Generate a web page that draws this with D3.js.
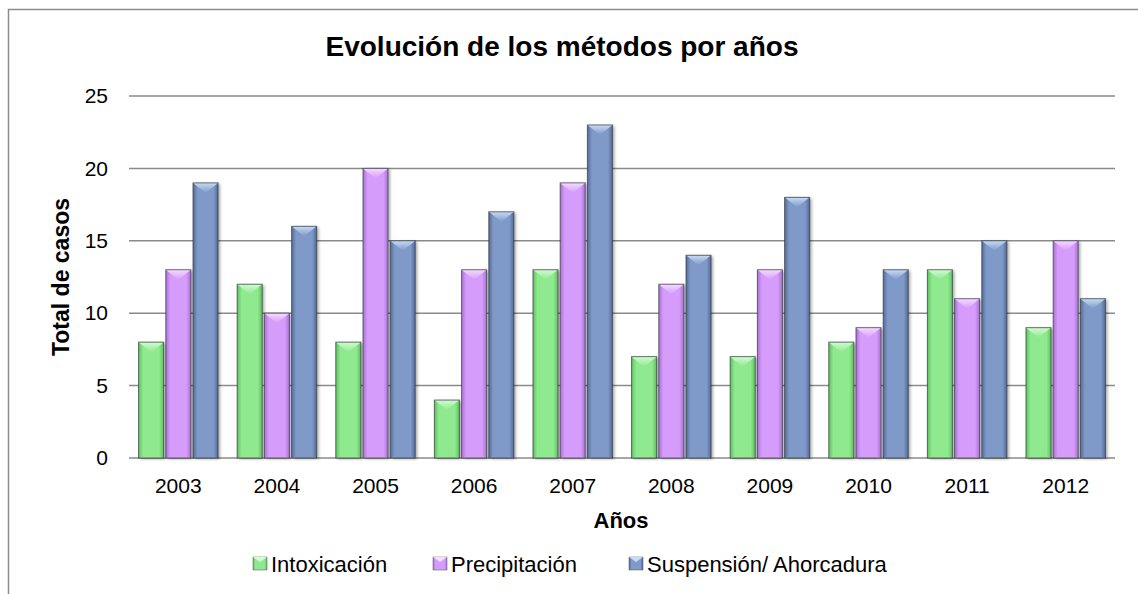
<!DOCTYPE html>
<html>
<head>
<meta charset="utf-8">
<script src="https://cdn.jsdelivr.net/npm/d3@7"></script>
<style>
  body { margin: 0; background: #fff; }
  text { font-family: "Liberation Sans", Arial, sans-serif; }
</style>
</head>
<body>
<div id="chart"></div>
<script>
// chart data
var years = ["2003", "2004", "2005", "2006", "2007", "2008", "2009", "2010", "2011", "2012"];
var seriesNames = ["Intoxicación", "Precipitación", "Suspensión/ Ahorcadura"];
var intoxicacion = [8, 12, 8, 4, 13, 7, 7, 8, 13, 9];
var precipitacion = [13, 10, 20, 13, 19, 12, 13, 9, 11, 15];
var suspension = [19, 16, 15, 17, 23, 14, 18, 13, 15, 11];
var yTicks = [0, 5, 10, 15, 20, 25];

var colors = [
  { base: "#8fe98f", light: "#d2fcd2", dark: "#5fbf5f" },
  { base: "#d69cfb", light: "#f6dcff", dark: "#a96fd4" },
  { base: "#7f99c8", light: "#c8dbf6", dark: "#55699a" }
];

var width = 1138, height = 594;
var margin = { left: 129, right: 23, top: 96, bottom: 136 };

var svg = d3.select("#chart").append("svg")
    .attr("width", width)
    .attr("height", height);

var defs = svg.append("defs");

// gradients for bar body and top bevel, one per series
colors.forEach(function(c, i) {
  var g = defs.append("linearGradient").attr("id", "body" + i)
      .attr("x1", "0").attr("x2", "1").attr("y1", "0").attr("y2", "0");
  g.append("stop").attr("offset", "0%").attr("stop-color", c.dark);
  g.append("stop").attr("offset", "18%").attr("stop-color", c.base);
  g.append("stop").attr("offset", "82%").attr("stop-color", c.base);
  g.append("stop").attr("offset", "100%").attr("stop-color", c.dark);

  var t = defs.append("linearGradient").attr("id", "top" + i)
      .attr("x1", "0").attr("x2", "0").attr("y1", "0").attr("y2", "1");
  t.append("stop").attr("offset", "0%").attr("stop-color", c.light);
  t.append("stop").attr("offset", "100%").attr("stop-color", c.base);
});

var shadow = defs.append("filter").attr("id", "shadow")
    .attr("x", "-30%").attr("y", "-10%").attr("width", "160%").attr("height", "120%");
shadow.append("feGaussianBlur").attr("in", "SourceAlpha").attr("stdDeviation", 1.5);
shadow.append("feOffset").attr("dx", 2).attr("dy", 1).attr("result", "blur");
shadow.append("feComponentTransfer").append("feFuncA").attr("type", "linear").attr("slope", 0.35);
var merge = shadow.append("feMerge");
merge.append("feMergeNode");
merge.append("feMergeNode").attr("in", "SourceGraphic");

// outer border (cut at right and bottom like the reference)
svg.append("path")
    .attr("d", "M8.5," + height + "V9.5H" + width)
    .attr("fill", "none")
    .attr("stroke", "#8c8c8c")
    .attr("stroke-width", 1.5);

var x = d3.scaleBand()
    .domain(years)
    .range([margin.left, width - margin.right])
    .paddingInner(0.15)
    .paddingOuter(0.075);

var xs = d3.scaleBand()
    .domain(d3.range(3))
    .range([0, x.bandwidth()])
    .padding(0.08);

var y = d3.scaleLinear()
    .domain([0, 25])
    .range([height - margin.bottom, margin.top]);

// gridlines
svg.append("g")
    .selectAll("line")
    .data(yTicks)
    .enter().append("line")
    .attr("x1", margin.left)
    .attr("x2", width - margin.right)
    .attr("y1", function(d) { return y(d); })
    .attr("y2", function(d) { return y(d); })
    .attr("stroke", "#8a8a8a")
    .attr("stroke-width", 1.5);

// y axis labels
var yAxis = d3.axisLeft(y).tickValues(yTicks).tickSize(0).tickPadding(21);
svg.append("g")
    .attr("transform", "translate(" + margin.left + ",0)")
    .call(yAxis)
    .call(function(g) { g.select(".domain").remove(); })
    .selectAll("text")
    .attr("font-size", "21px")
    .attr("fill", "#000")
    .style("font-family", "'Liberation Sans', Arial, sans-serif");

// x axis labels
var xAxis = d3.axisBottom(x).tickSize(0).tickPadding(20);
svg.append("g")
    .attr("transform", "translate(0," + y(0) + ")")
    .call(xAxis)
    .call(function(g) { g.select(".domain").remove(); })
    .selectAll("text")
    .attr("font-size", "21px")
    .attr("fill", "#000")
    .style("font-family", "'Liberation Sans', Arial, sans-serif");

var series = [intoxicacion, precipitacion, suspension];

function drawBar(g, bx, by, bw, bh, i) {
  g.append("rect")
      .attr("x", bx).attr("y", by)
      .attr("width", bw).attr("height", bh)
      .attr("fill", "url(#body" + i + ")")
      .attr("filter", "url(#shadow)");
  var d = Math.min(bw * 0.4, bh / 2);
  // top bevel
  g.append("polygon")
      .attr("points", [[bx, by], [bx + bw, by], [bx + bw / 2, by + d]].join(" "))
      .attr("fill", "url(#top" + i + ")");
  // bottom bevel
  g.append("polygon")
      .attr("points", [[bx, by + bh], [bx + bw, by + bh], [bx + bw / 2, by + bh - d * 0.6]].join(" "))
      .attr("fill", colors[i].base)
      .attr("opacity", 0.8);
  g.append("rect")
      .attr("x", bx).attr("y", by)
      .attr("width", bw).attr("height", bh)
      .attr("fill", "none")
      .attr("stroke", "#2f3a3a")
      .attr("stroke-opacity", 0.7)
      .attr("stroke-width", 1);
}

var bars = svg.append("g");
years.forEach(function(yr, j) {
  series.forEach(function(s, i) {
    var g = bars.append("g");
    drawBar(g, x(yr) + xs(i), y(s[j]), xs.bandwidth(), y(0) - y(s[j]), i);
  });
});

// title
svg.append("text")
    .attr("x", 562)
    .attr("y", 56)
    .attr("text-anchor", "middle")
    .attr("font-size", "28px")
    .attr("font-weight", "bold")
    .text("Evolución de los métodos por años");

// axis titles
svg.append("text")
    .attr("x", 621)
    .attr("y", 528)
    .attr("text-anchor", "middle")
    .attr("font-size", "22px")
    .attr("font-weight", "bold")
    .text("Años");

svg.append("text")
    .attr("transform", "translate(69," + ((y(0) + y(25)) / 2) + ") rotate(-90)")
    .attr("text-anchor", "middle")
    .attr("font-size", "23px")
    .attr("font-weight", "bold")
    .text("Total de casos");

// legend
var legendX = [253, 433, 629];
var legend = svg.append("g");
seriesNames.forEach(function(name, i) {
  var lg = legend.append("g").attr("transform", "translate(" + legendX[i] + ",557)");
  lg.append("rect").attr("width", 14).attr("height", 13)
      .attr("fill", "url(#body" + i + ")")
      .attr("stroke", "#555").attr("stroke-width", 0.5);
  lg.append("polygon")
      .attr("points", "0,0 14,0 7,5")
      .attr("fill", colors[i].light);
  lg.append("text")
      .attr("x", 18)
      .attr("y", 15)
      .attr("font-size", "22px")
      .text(name);
});
</script>
</body>
</html>
